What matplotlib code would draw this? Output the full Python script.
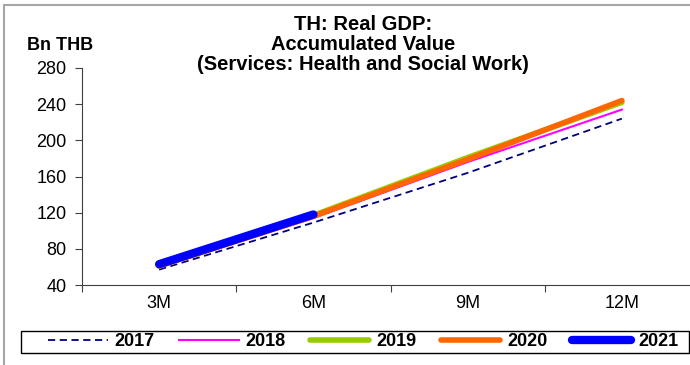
import matplotlib.pyplot as plt
from matplotlib.lines import Line2D
from matplotlib.patches import Rectangle

plt.rcParams['font.family'] = ['Liberation Sans', 'DejaVu Sans']

months = ['3M', '6M', '9M', '12M']
y2017 = [57, 109, 164, 224]
y2018 = [60, 114, 176, 234]
y2019 = [61, 117, 181, 242]
y2020 = [61, 116, 179, 244]
y2021 = [63, 118]
years = ['2017', '2018', '2019', '2020', '2021']
yticks = [40, 80, 120, 160, 200, 240, 280]

W, H = 690, 365
fig = plt.figure(figsize=(W / 100, H / 100), dpi=100)
ax = fig.add_axes([82 / W, (H - 285) / H, (699 - 82) / W, (285 - 68) / H])

x = list(range(len(months)))
ax.plot(x, y2017, color='#000080', lw=1.3, ls=(0, (4, 2.5)))
ax.plot(x, y2018, color='#FF00FF', lw=1.5)
ax.plot(x, y2019, color='#99CC00', lw=4, solid_capstyle='round')
ax.plot(x, y2020, color='#FF6600', lw=4, solid_capstyle='round')
ax.plot(x[:len(y2021)], y2021, color='#0000FF', lw=6, solid_capstyle='round')

ax.set_xlim(-0.5, 3.5)
ax.set_ylim(40, 280)
ax.set_yticks(yticks)
ax.set_xticks(x)
ax.set_xticklabels(months)
ax.set_xticks([-0.5, 0.5, 1.5, 2.5], minor=True)
ax.tick_params(axis='x', which='major', length=0, pad=7, labelsize=13)
ax.tick_params(axis='x', which='minor', length=5, width=0.8, color='#404040')
ax.tick_params(axis='y', length=5, width=0.8, color='#404040', labelsize=13, pad=6)
for s in ['top', 'right']:
    ax.spines[s].set_visible(False)
for s in ['left', 'bottom']:
    ax.spines[s].set_color('#404040')
    ax.spines[s].set_linewidth(0.8)

fig.text(363 / W, 1 - 25 / H, 'TH: Real GDP:', ha='center', va='center', fontsize=14.5, fontweight='bold')
fig.text(363 / W, 1 - 45 / H, 'Accumulated Value', ha='center', va='center', fontsize=14.5, fontweight='bold')
fig.text(363 / W, 1 - 65 / H, '(Services: Health and Social Work)', ha='center', va='center', fontsize=14.5, fontweight='bold')
fig.text(27 / W, 1 - 45 / H, 'Bn THB', ha='left', va='center', fontsize=13, fontweight='bold')

handles = [
    Line2D([], [], color='#000080', lw=1.3, ls=(0, (4, 2.5))),
    Line2D([], [], color='#FF00FF', lw=1.5),
    Line2D([], [], color='#99CC00', lw=4, solid_capstyle='round'),
    Line2D([], [], color='#FF6600', lw=4, solid_capstyle='round'),
    Line2D([], [], color='#0000FF', lw=6, solid_capstyle='round'),
]
leg = fig.legend(handles, years, ncol=5, loc='center left', bbox_to_anchor=(48 / W, 1 - 342 / H),
                 prop={'weight': 'bold', 'size': 13}, handlelength=3.3, handletextpad=0.4,
                 columnspacing=1.33, frameon=False, borderpad=0, borderaxespad=0)

fig.patches.append(Rectangle((21 / W, (H - 353) / H), (689 - 21) / W, 22 / H, transform=fig.transFigure,
                             fill=False, edgecolor='black', lw=1))
fig.patches.append(Rectangle((4 / W, -0.1), 1.2, 1.1 - 5 / H, transform=fig.transFigure,
                             fill=False, edgecolor='#A6A6A6', lw=1.5))

fig.savefig('out.png', dpi=100)
